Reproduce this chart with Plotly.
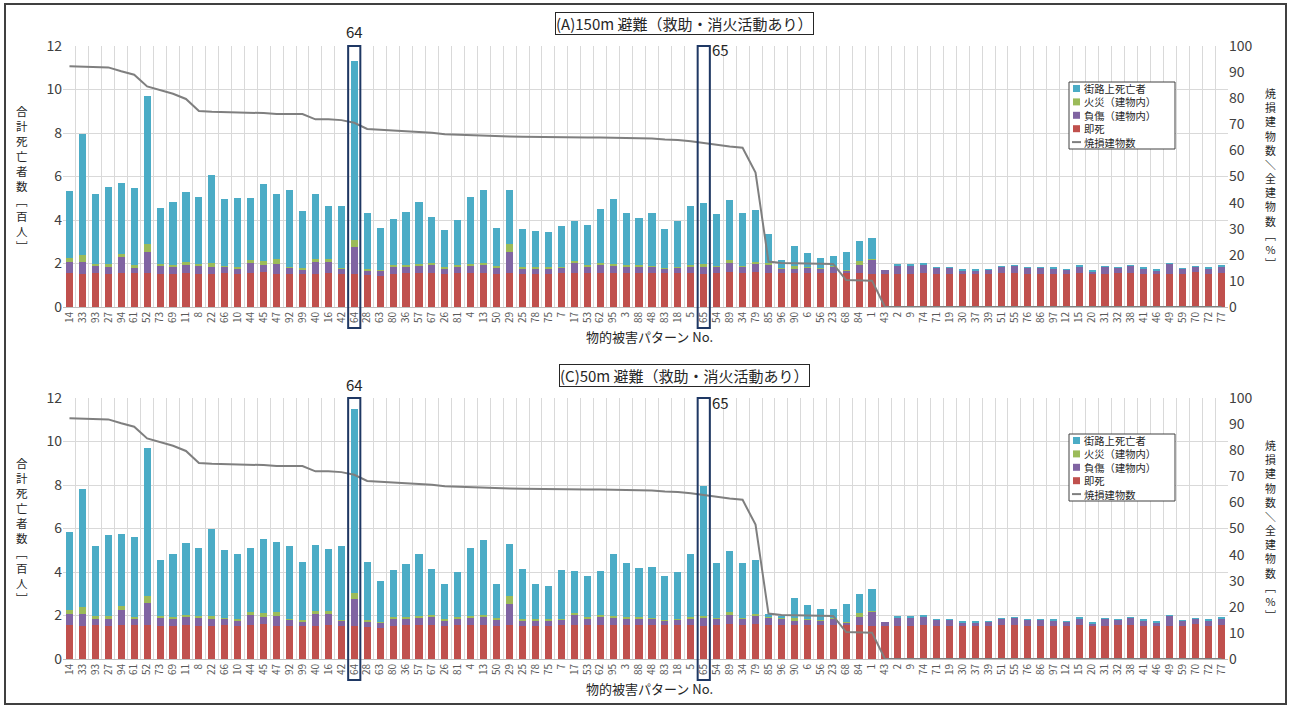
import plotly.graph_objects as go

categories = ["14","33","93","27","94","61","52","73","69","11","8","22","66","10","44","45","47","92","99","40",
              "16","42","64","28","63","80","36","57","67","26","81","4","13","50","29","25","78","75","7","17",
              "53","62","95","3","88","48","83","18","5","65","54","89","34","79","85","96","90","6","56","23",
              "68","84","1","43","2","9","74","71","19","30","37","39","51","55","76","86","97","12","15","20",
              "31","32","38","41","46","49","59","70","72","77"]

# ---- Panel (A) 150m ----
sokushi_A = [1.56,1.53,1.56,1.53,1.56,1.56,1.56,1.53,1.53,1.56,1.53,1.53,1.56,1.53,1.56,1.61,1.53,1.53,1.53,1.53,
             1.58,1.53,1.53,1.49,1.44,1.53,1.55,1.55,1.55,1.52,1.55,1.55,1.55,1.52,1.55,1.52,1.52,1.52,1.55,1.55,
             1.55,1.55,1.55,1.55,1.55,1.56,1.56,1.56,1.56,1.53,1.56,1.61,1.56,1.61,1.56,1.56,1.56,1.56,1.56,1.56,
             1.56,1.56,1.53,1.53,1.53,1.53,1.55,1.53,1.53,1.50,1.50,1.50,1.55,1.56,1.53,1.53,1.53,1.50,1.56,1.52,
             1.53,1.56,1.56,1.53,1.50,1.53,1.53,1.61,1.53,1.58]
fusho_A = [0.51,0.54,0.32,0.31,0.74,0.25,0.97,0.39,0.31,0.39,0.35,0.31,0.28,0.22,0.46,0.31,0.46,0.28,0.19,0.54,
           0.47,0.23,1.23,0.20,0.22,0.35,0.30,0.35,0.40,0.25,0.30,0.35,0.40,0.30,1.00,0.25,0.25,0.25,0.25,0.50,
           0.30,0.40,0.35,0.30,0.30,0.28,0.20,0.25,0.28,0.31,0.28,0.41,0.28,0.38,0.40,0.20,0.23,0.25,0.20,0.28,
           0.13,0.36,0.65,0.16,0.39,0.39,0.40,0.27,0.27,0.20,0.20,0.22,0.30,0.34,0.27,0.27,0.25,0.22,0.31,0.12,
           0.31,0.25,0.34,0.26,0.19,0.46,0.22,0.23,0.26,0.29]
kasai_A = [0.20,0.31,0.11,0.15,0.15,0.11,0.38,0.07,0.11,0.10,0.11,0.18,0.06,0.09,0.14,0.19,0.20,0.03,0.07,0.14,
           0.14,0.05,0.31,0.07,0.06,0.05,0.06,0.08,0.07,0.05,0.06,0.08,0.08,0.06,0.35,0.06,0.05,0.05,0.06,0.08,
           0.06,0.08,0.08,0.06,0.06,0.05,0.03,0.04,0.08,0.12,0.04,0.13,0.03,0.08,0.06,0.05,0.08,0.03,0.04,0.03,
           0.03,0.19,0.04,0.00,0.01,0.01,0.01,0.00,0.00,0.00,0.00,0.00,0.00,0.00,0.00,0.00,0.00,0.00,0.00,0.00,
           0.00,0.00,0.00,0.00,0.00,0.00,0.00,0.00,0.00,0.00]
gairo_A = [3.06,5.59,3.19,3.51,3.27,3.57,6.78,2.58,2.86,3.24,3.07,4.06,3.08,3.16,2.87,3.55,3.02,3.52,2.62,3.00,
           2.47,2.82,8.24,2.58,1.90,2.10,2.46,2.85,2.12,1.72,2.09,3.08,3.35,1.75,2.48,1.76,1.68,1.63,1.86,1.82,
           1.86,2.47,2.99,2.41,2.18,2.43,1.78,2.09,2.72,2.84,2.41,2.78,2.47,2.37,1.32,0.34,0.92,0.64,0.47,0.46,
           0.81,0.92,0.97,0.00,0.03,0.02,0.02,0.02,0.02,0.02,0.02,0.02,0.02,0.02,0.02,0.02,0.02,0.02,0.02,0.02,
           0.02,0.02,0.02,0.02,0.02,0.02,0.02,0.02,0.02,0.02]

# ---- Panel (C) 50m ----
sokushi_C = [1.56,1.53,1.56,1.53,1.56,1.56,1.56,1.53,1.53,1.56,1.53,1.53,1.56,1.53,1.56,1.61,1.53,1.53,1.53,1.53,
             1.58,1.53,1.53,1.49,1.44,1.53,1.55,1.55,1.55,1.52,1.55,1.55,1.55,1.52,1.55,1.52,1.52,1.52,1.55,1.55,
             1.55,1.55,1.55,1.55,1.55,1.56,1.56,1.56,1.56,1.53,1.56,1.61,1.56,1.61,1.56,1.56,1.56,1.56,1.56,1.56,
             1.56,1.56,1.53,1.53,1.53,1.53,1.55,1.53,1.53,1.50,1.50,1.50,1.55,1.56,1.53,1.53,1.53,1.50,1.56,1.52,
             1.53,1.56,1.56,1.53,1.50,1.53,1.53,1.61,1.53,1.58]
fusho_C = [0.50,0.55,0.30,0.33,0.70,0.28,1.00,0.38,0.30,0.38,0.35,0.32,0.28,0.22,0.45,0.32,0.45,0.28,0.20,0.52,
           0.47,0.23,1.22,0.22,0.22,0.33,0.30,0.35,0.40,0.25,0.30,0.35,0.40,0.30,1.00,0.25,0.25,0.25,0.25,0.50,
           0.30,0.40,0.35,0.30,0.30,0.28,0.20,0.25,0.28,0.35,0.28,0.41,0.28,0.38,0.35,0.30,0.23,0.25,0.20,0.28,
           0.13,0.36,0.65,0.16,0.39,0.39,0.40,0.27,0.27,0.20,0.20,0.22,0.30,0.34,0.27,0.27,0.25,0.22,0.31,0.12,
           0.31,0.25,0.34,0.26,0.19,0.46,0.22,0.23,0.26,0.29]
kasai_C = [0.18,0.30,0.10,0.12,0.18,0.10,0.35,0.08,0.10,0.10,0.10,0.15,0.06,0.08,0.14,0.18,0.18,0.05,0.07,0.15,
           0.14,0.05,0.30,0.07,0.06,0.05,0.06,0.08,0.07,0.05,0.06,0.08,0.08,0.06,0.35,0.06,0.05,0.05,0.06,0.08,
           0.06,0.08,0.08,0.06,0.06,0.05,0.03,0.04,0.08,0.12,0.04,0.13,0.03,0.08,0.06,0.05,0.08,0.03,0.04,0.03,
           0.03,0.19,0.04,0.00,0.01,0.01,0.01,0.00,0.00,0.00,0.00,0.00,0.00,0.00,0.00,0.00,0.00,0.00,0.00,0.00,
           0.00,0.00,0.00,0.00,0.00,0.00,0.00,0.00,0.00,0.00]
gairo_C = [3.61,5.45,3.24,3.72,3.31,3.66,6.79,2.56,2.92,3.31,3.12,4.00,3.10,3.02,2.95,3.40,3.24,3.34,2.65,3.05,
           2.86,3.39,8.45,2.66,1.87,2.19,2.44,2.87,2.13,1.63,2.09,3.12,3.42,1.57,2.40,2.32,1.63,1.53,2.24,1.92,
           1.89,2.02,2.87,2.49,2.29,2.36,2.01,2.15,2.93,5.95,2.52,2.80,2.53,2.48,0.08,0.09,0.93,0.66,0.50,0.43,
           0.83,0.89,0.98,0.00,0.03,0.02,0.02,0.02,0.02,0.02,0.02,0.02,0.02,0.02,0.02,0.02,0.02,0.02,0.02,0.02,
           0.02,0.02,0.02,0.02,0.02,0.02,0.02,0.02,0.02,0.02]

# burnt building ratio [%]
shoson = [92.2,92.0,91.9,91.8,90.3,89.0,84.5,83.0,81.7,79.7,75.1,74.8,74.7,74.7,74.6,74.3,73.9,73.9,73.9,71.9,
          71.9,71.6,70.6,68.2,67.9,67.7,67.2,66.9,66.8,66.2,66.0,65.7,65.5,65.4,65.3,65.2,65.1,65.1,65.0,65.0,
          64.9,64.9,64.8,64.8,64.7,64.6,64.2,64.0,63.5,62.8,62.0,61.5,61.0,51.5,17.4,16.9,16.8,16.7,16.6,16.5,
          10.3,10.2,10.1,0,0,0,0,0,0,0,0,0,0,0,0,0,0,0,0,0,
          0,0,0,0,0,0,0,0,0,0]

series_names = ["即死", "負傷（建物内）", "火災（建物内）", "街路上死亡者"]
series_colors = ["#C0504D", "#8064A2", "#9BBB59", "#4BACC6"]
line_name = "焼損建物数"
line_color = "#7F7F7F"
highlight = ["64", "65"]
titles = ["(A)150m 避難（救助・消火活動あり）", "(C)50m 避難（救助・消火活動あり）"]
left_title = ["合", "計", "死", "亡", "者", "数", "﹇", "百", "人", "﹈"]
right_title = ["焼", "損", "建", "物", "数", "＼", "全", "建", "物", "数", "﹇", "%", "﹈"]

FONT = "Noto Sans CJK JP"
TXT = "#262626"
W, H = 1290, 708
ML, MR, MT, MB = 63, 62, 46, 49
PW = W - ML - MR
PH = H - MT - MB

def py(px):   # pixel y -> paper y
    return (H - MB - px) / PH

def pxx(px):  # pixel x -> paper x
    return (px - ML) / PW

fig = go.Figure()

panels = [
    dict(data=[sokushi_A, fusho_A, kasai_A, gairo_A], xa="x", ya="y", ya2="y2", top=46),
    dict(data=[sokushi_C, fusho_C, kasai_C, gairo_C], xa="x2", ya="y3", ya2="y4", top=398),
]

for p in panels:
    for vals, nm, col in zip(p["data"], series_names, series_colors):
        fig.add_trace(go.Bar(x=categories, y=vals, name=nm, marker=dict(color=col, line=dict(width=0)),
                             xaxis=p["xa"], yaxis=p["ya"], showlegend=False))
    fig.add_trace(go.Scatter(x=categories, y=shoson, name=line_name, mode="lines",
                             line=dict(color=line_color, width=2), xaxis=p["xa"], yaxis=p["ya2"],
                             showlegend=False))

grid = "#D9D9D9"
xcommon = dict(type="category", categoryorder="array", categoryarray=categories, tickson="boundaries",
               showgrid=True, gridcolor=grid, gridwidth=1, tickangle=-90,
               tickfont=dict(family=FONT, size=10, color="#595959"), showline=True, linecolor="#BFBFBF",
               ticks="", range=[-0.5, len(categories) - 0.5], automargin=False)
ycommon = dict(range=[0, 12], dtick=2, showgrid=True, gridcolor=grid, zeroline=False,
               tickfont=dict(family=FONT, size=14, color="#404040"), ticks="", automargin=False)
y2common = dict(range=[0, 100], dtick=10, showgrid=False, zeroline=False, side="right",
                tickfont=dict(family=FONT, size=14, color="#404040"), ticks="", automargin=False)

top_dom = [py(307), 1.0]
bot_dom = [0.0, py(398)]

fig.update_layout(
    width=W, height=H, margin=dict(l=ML, r=MR, t=MT, b=MB),
    paper_bgcolor="white", plot_bgcolor="white",
    barmode="stack", bargap=0.45,
    font=dict(family=FONT, color=TXT),
    xaxis=dict(**xcommon, domain=[0, 1], anchor="y"),
    yaxis=dict(**ycommon, domain=top_dom, anchor="x"),
    yaxis2=dict(**y2common, overlaying="y", anchor="x"),
    xaxis2=dict(**xcommon, domain=[0, 1], anchor="y3"),
    yaxis3=dict(**ycommon, domain=bot_dom, anchor="x2"),
    yaxis4=dict(**y2common, overlaying="y3", anchor="x2"),
    showlegend=False,
)

legend_items = [(series_names[3], series_colors[3], "box"), (series_names[2], series_colors[2], "box"),
                (series_names[1], series_colors[1], "box"), (series_names[0], series_colors[0], "box"),
                (line_name, line_color, "line")]

shapes = []
annotations = []

def ann(text, x, y, xref="paper", size=13, xanchor="center", **kw):
    d = dict(text=text, xref=xref, yref="paper", x=x, y=y, showarrow=False, xanchor=xanchor,
             yanchor="middle", font=dict(family=FONT, size=size, color=TXT))
    d.update(kw)
    annotations.append(d)

for pi, p in enumerate(panels):
    off = p["top"] - 46
    # white area behind legend (hides gridlines)
    shapes.append(dict(type="rect", xref="paper", yref="paper", x0=pxx(1045), x1=pxx(1213),
                       y0=py(170 + off), y1=py(46 + off), fillcolor="white", line=dict(width=0), layer="between"))
    # legend box
    shapes.append(dict(type="rect", xref="paper", yref="paper", x0=pxx(1069), x1=pxx(1175),
                       y0=py(149 + off), y1=py(82 + off), fillcolor="white",
                       line=dict(color="#404040", width=1), layer="above"))
    for j, (nm, col, kind) in enumerate(legend_items):
        cy = 88.5 + off + j * 13.4
        if kind == "box":
            shapes.append(dict(type="rect", xref="paper", yref="paper", x0=pxx(1073), x1=pxx(1080),
                               y0=py(cy + 3.5), y1=py(cy - 3.5), fillcolor=col, line=dict(width=0),
                               layer="above"))
        else:
            shapes.append(dict(type="line", xref="paper", yref="paper", x0=pxx(1072), x1=pxx(1081),
                               y0=py(cy), y1=py(cy), line=dict(color=col, width=2), layer="above"))
        ann(nm, pxx(1082), py(cy), size=10.3, xanchor="left")
    # highlight boxes
    xr = "x" if pi == 0 else "x2"
    for h in highlight:
        idx = categories.index(h)
        shapes.append(dict(type="rect", xref=xr, yref="paper", x0=idx - 0.47, x1=idx + 0.47,
                           y0=py(328 + off), y1=py(46 + off), line=dict(color="#1F3864", width=2),
                           fillcolor="rgba(0,0,0,0)", layer="above"))
    i64 = categories.index(highlight[0])
    i65 = categories.index(highlight[1])
    ann(highlight[0], i64, py(32 + off), xref=xr, size=15)
    ann(highlight[1], i65, py(50 + off), xref=xr, size=15, xanchor="left", xshift=6)
    # panel title box
    ann(titles[pi], pxx(684), py(23.5 + off), size=15, bordercolor=TXT, borderwidth=1, borderpad=0,
        bgcolor="white")
    # x-axis title
    ann("物的被害パターン No.", pxx(650), py(336 + off), size=13)
    # vertical axis titles (one character per line)
    ann("<br>".join(left_title), pxx(22), py(178 + off), size=11.5)
    ann("<br>".join(right_title), pxx(1270), py(178 + off), size=10.9)

# outer frame
shapes.append(dict(type="rect", xref="paper", yref="paper", x0=pxx(5), x1=pxx(1286), y0=py(704), y1=py(4),
                   line=dict(color="#404040", width=2), fillcolor="rgba(0,0,0,0)"))

fig.update_layout(shapes=shapes, annotations=annotations)
fig.write_html("out.html", config={"displayModeBar": False},
               post_script="document.body.style.margin='0px';")
